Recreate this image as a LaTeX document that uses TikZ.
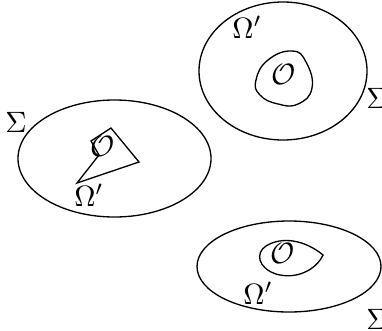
\documentclass[tikz,border=0pt]{standalone}
\usepackage{amsmath,amssymb}
\usepackage{tikz}
\usetikzlibrary{positioning,calc}

\begin{document}
\begin{tikzpicture}[
  x=0.34pt,y=-0.34pt,
  region/.style={draw=black,line width=0.45pt},
  lbl/.style={inner sep=0pt,font=\normalsize}]

  \useasboundingbox (0,0) rectangle (382,330);

  % three domains Sigma
  \draw[region] (114.5,158.5) ellipse [x radius=96.5,y radius=58.5];
  \draw[region] (283,71) ellipse [x radius=84,y radius=69];
  \draw[region] (289,266.5) ellipse [x radius=92,y radius=45.5];

  % left: polygon around O
  \draw[region] (77,183) -- (99,155) -- (91,141) -- (111,128) -- (139,162) -- cycle;

  % top right: blob around O
  \draw[region] plot[smooth cycle,tension=0.8] coordinates
    {(256,80) (268,60) (292,51) (306,62) (312,88) (298,104) (278,104) (260,95)};

  % bottom right: drop around O
  \draw[region] (323,255) .. controls (305,240) and (282,236) .. (266,246)
    .. controls (255,253) and (258,268) .. (276,274)
    .. controls (296,280) and (316,270) .. (323,255) -- cycle;

  \node[lbl] (sigL) at (16,122) {$\Sigma$};
  \node[lbl] (sigT) at (377,98) {$\Sigma$};
  \node[lbl] (sigB) at (377,319) {$\Sigma$};

  \node[lbl] (omL) at (89,195) {$\Omega'$};
  \node[lbl] (omT) at (247,27) {$\Omega'$};
  \node[lbl] (omB) at (258,293) {$\Omega'$};

  \node[lbl] (oL) at (103,146) {$\mathcal{O}$};
  \node[lbl] (oT) at (284,74) {$\mathcal{O}$};
  \node[lbl] (oB) at (283,253) {$\mathcal{O}$};
\end{tikzpicture}
\end{document}
